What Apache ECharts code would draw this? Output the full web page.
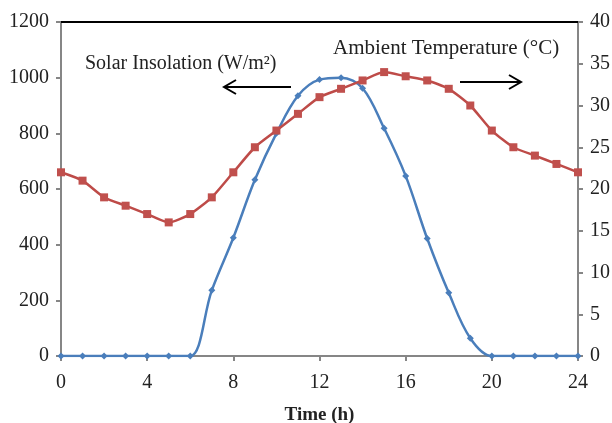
<!DOCTYPE html>
<html>
<head>
<meta charset="utf-8">
<script src="https://cdn.jsdelivr.net/npm/echarts@6/dist/echarts.min.js"></script>
<style>html,body{margin:0;padding:0;background:#fff}#c{width:612px;height:423px}</style>
</head>
<body>
<div id="c"></div>
<script>
var hours = [0,1,2,3,4,5,6,7,8,9,10,11,12,13,14,15,16,17,18,19,20,21,22,23,24];
var solar = [0,0,0,0,0,0,0,236,425,633,800,935,993,1000,962,818,647,422,227,64,0,0,0,0,0];
var temperature = [22,21,19,18,17,16,17,19,22,25,27,29,31,32,33,34,33.5,33,32,30,27,25,24,23,22];
var xTicks = [0,4,8,12,16,20,24];
var leftTicks = [0,200,400,600,800,1000,1200];
var rightTicks = [0,5,10,15,20,25,30,35,40];

var chart = echarts.init(document.getElementById('c'), null, {renderer:'canvas'});
var font = '"Liberation Serif", "Times New Roman", serif';
var axisGrey = '#868686';
function pairs(xs, ys){ return xs.map(function(x,i){ return [x, ys[i]]; }); }
function plain(v){ return String(v); }

chart.setOption({
  animation:false,
  backgroundColor:'#fff',
  grid:{left:61, right:34, top:22, bottom:67, containLabel:false, outerBoundsMode:'none'},
  xAxis:[{
    type:'value', min:xTicks[0], max:xTicks[xTicks.length-1], interval:4,
    name:'Time (h)', nameLocation:'middle', nameGap:50,
    nameTextStyle:{fontFamily:font, fontWeight:'bold', fontSize:19, color:'#222'},
    axisLine:{show:true, onZero:false, lineStyle:{color:axisGrey, width:2}},
    axisTick:{show:true, inside:false, length:5, lineStyle:{color:axisGrey, width:2}},
    axisLabel:{fontFamily:font, fontSize:20, color:'#222', margin:17, formatter:plain},
    splitLine:{show:false}
  },{
    type:'value', position:'top', min:0, max:24,
    axisLine:{show:true, onZero:false, lineStyle:{color:'#000', width:2}},
    axisTick:{show:false}, axisLabel:{show:false}, splitLine:{show:false}
  }],
  yAxis:[{
    type:'value', position:'left', min:leftTicks[0], max:leftTicks[leftTicks.length-1], interval:200, alignTicks:false,
    axisLine:{show:true, onZero:false, lineStyle:{color:axisGrey, width:2}},
    axisTick:{show:true, length:5, lineStyle:{color:axisGrey, width:2}},
    axisLabel:{fontFamily:font, fontSize:20, color:'#222', margin:12, formatter:plain},
    splitLine:{show:false}
  },{
    type:'value', position:'right', min:rightTicks[0], max:rightTicks[rightTicks.length-1], interval:5, alignTicks:false,
    axisLine:{show:true, onZero:false, lineStyle:{color:axisGrey, width:2}},
    axisTick:{show:true, length:5, lineStyle:{color:axisGrey, width:2}},
    axisLabel:{fontFamily:font, fontSize:20, color:'#222', margin:12, formatter:plain},
    splitLine:{show:false}
  }],
  series:[{
    name:'Solar Insolation', type:'line', yAxisIndex:0, smooth:0.35,
    data:pairs(hours, solar),
    symbol:'diamond', symbolSize:7,
    lineStyle:{color:'#4A7EBB', width:2.5},
    itemStyle:{color:'#4A7EBB'}
  },{
    name:'Ambient Temperature', type:'line', yAxisIndex:1, smooth:0.2,
    data:pairs(hours, temperature),
    symbol:'rect', symbolSize:8,
    lineStyle:{color:'#BE4B48', width:2.5},
    itemStyle:{color:'#C0504D'}
  }],
  graphic:[
    {type:'text', left:85, top:54, style:{text:'Solar Insolation (W/m²)', font:'20px ' + font, fill:'#222'}},
    {type:'text', left:333, top:38, style:{text:'Ambient Temperature (°C)', font:'21px ' + font, fill:'#222'}},
    {type:'line', shape:{x1:224, y1:87, x2:291, y2:87}, style:{stroke:'#000', lineWidth:2}},
    {type:'polyline', shape:{points:[[236,80],[224,87],[236,94]]}, style:{stroke:'#000', lineWidth:2, fill:null}},
    {type:'line', shape:{x1:460, y1:82, x2:521, y2:82}, style:{stroke:'#000', lineWidth:2}},
    {type:'polyline', shape:{points:[[509,75],[521,82],[509,89]]}, style:{stroke:'#000', lineWidth:2, fill:null}}
  ]
});
</script>
</body>
</html>
